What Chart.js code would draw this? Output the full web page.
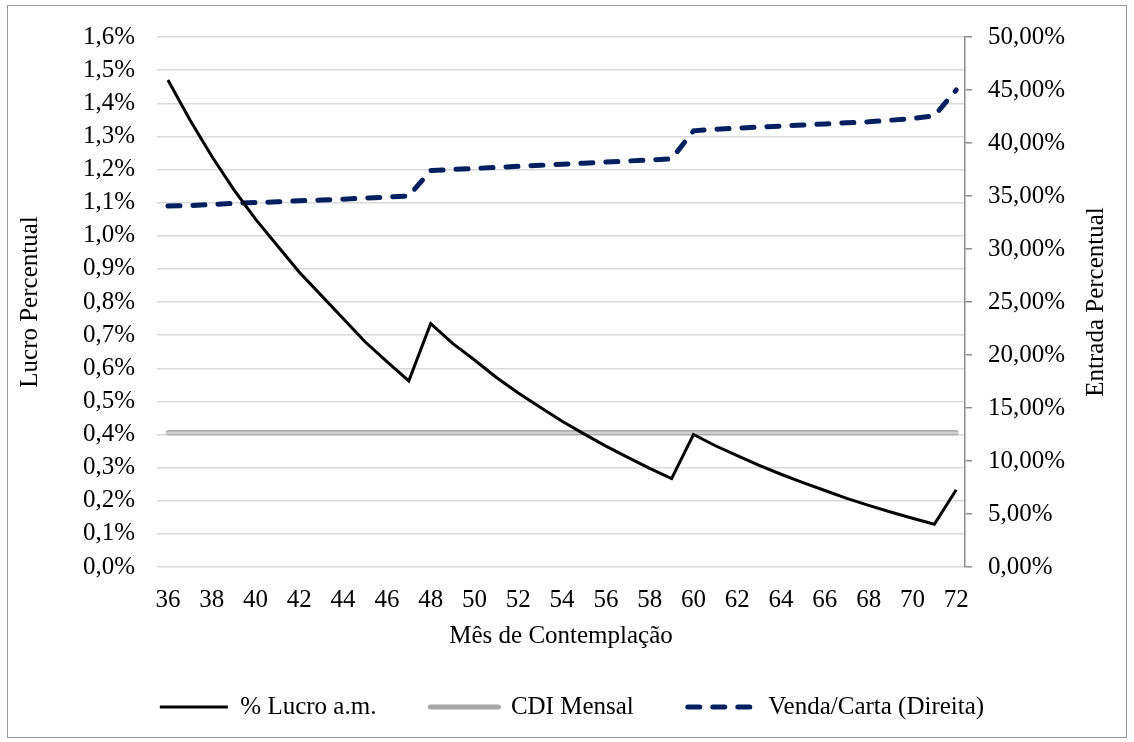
<!DOCTYPE html>
<html>
<head>
<meta charset="utf-8">
<script src="https://cdn.jsdelivr.net/npm/chart.js@4.4.1/dist/chart.umd.min.js"></script>
<style>
    body { margin: 0; background: #fff; }
    #wrap { position: relative; width: 1134px; height: 742px; }
    #moldura { position: absolute; left: 7px; top: 5px; width: 1118px; height: 731px; border: 1px solid #999; pointer-events: none; }
</style>
</head>
<body>
<div id="wrap">
    <canvas id="grafico"></canvas>
    <div id="moldura"></div>
</div>
<script>
// dados
const meses = [36, 37, 38, 39, 40, 41, 42, 43, 44, 45, 46, 47, 48, 49, 50, 51, 52, 53, 54,
    55, 56, 57, 58, 59, 60, 61, 62, 63, 64, 65, 66, 67, 68, 69, 70, 71, 72];
const lucroMensal = [1.47, 1.35, 1.24, 1.14, 1.05, 0.97, 0.89, 0.82, 0.75, 0.68, 0.62, 0.562,
    0.735, 0.675, 0.625, 0.572, 0.525, 0.482, 0.44, 0.402, 0.365, 0.331, 0.298, 0.267,
    0.40, 0.366, 0.336, 0.307, 0.28, 0.255, 0.231, 0.207, 0.186, 0.166, 0.147, 0.129, 0.233];
const cdiMensal = 0.405;
const vendaCarta = [34.05, 34.1, 34.2, 34.3, 34.38, 34.45, 34.55, 34.62, 34.7, 34.8, 34.9, 35.0,
    37.4, 37.5, 37.6, 37.7, 37.8, 37.9, 38.0, 38.1, 38.2, 38.3, 38.4, 38.5,
    41.15, 41.3, 41.4, 41.5, 41.6, 41.7, 41.8, 41.9, 42.0, 42.15, 42.3, 42.56, 45.0];
const ticksMeses = [36, 38, 40, 42, 44, 46, 48, 50, 52, 54, 56, 58, 60, 62, 64, 66, 68, 70, 72];

const fonte = "'Liberation Serif', 'Times New Roman', serif";
const tamFonte = 25;
const ctx = document.getElementById("grafico").getContext("2d");

// titulo do eixo direito, lido de baixo para cima como no original
const tituloDireito = {
    id: "tituloDireito",
    afterDraw: (chart) => {
        const area = chart.chartArea;
        const c = chart.ctx;
        c.save();
        c.translate(1096, (area.top + area.bottom) / 2);
        c.rotate(-Math.PI / 2);
        c.font = tamFonte + "px " + fonte;
        c.fillStyle = "#000";
        c.textAlign = "center";
        c.textBaseline = "middle";
        c.fillText("Entrada Percentual", 0, 0);
        c.restore();
    },
};

// linha do CDI com borda escura e miolo claro (efeito "dupla")
const corCdi = (context) => {
    const chart = context.chart;
    if (!chart.chartArea || !chart.scales.y) return "#a6a6a6";
    const y = chart.scales.y.getPixelForValue(cdiMensal);
    const grad = chart.ctx.createLinearGradient(0, y - 2.5, 0, y + 2.5);
    grad.addColorStop(0, "#8a8a8a");
    grad.addColorStop(0.35, "#cfcfcf");
    grad.addColorStop(0.65, "#cfcfcf");
    grad.addColorStop(1, "#8a8a8a");
    return grad;
};

// legenda com o tracejado de cada serie
const gerarLegenda = (chart) => {
    const itens = Chart.defaults.plugins.legend.labels.generateLabels(chart);
    itens.forEach((item, i) => {
        const ds = chart.data.datasets[i];
        item.lineDash = ds.borderDash || [];
        item.lineWidth = ds.borderWidth;
        item.lineCap = ds.borderCapStyle || "butt";
        item.strokeStyle = typeof ds.borderColor === "string" ? ds.borderColor : "#a6a6a6";
    });
    return itens;
};

new Chart(ctx, {
    type: "line",
    data: {
        labels: meses,
        datasets: [
            {
                label: "% Lucro a.m.",
                data: lucroMensal,
                borderColor: "#000",
                backgroundColor: "#000",
                borderWidth: 3,
                pointRadius: 0,
                tension: 0,
                yAxisID: "y",
            },
            {
                label: "CDI Mensal",
                data: [{ x: 36, y: cdiMensal }, { x: 72, y: cdiMensal }],
                borderColor: corCdi,
                backgroundColor: "#a6a6a6",
                borderWidth: 5,
                pointRadius: 0,
                borderCapStyle: "round",
                yAxisID: "y",
            },
            {
                label: "Venda/Carta (Direita)",
                data: vendaCarta,
                borderColor: "#002060",
                backgroundColor: "#002060",
                borderWidth: 5,
                borderDash: [12, 13],
                borderCapStyle: "round",
                pointRadius: 0,
                tension: 0,
                yAxisID: "y1",
            },
        ],
    },
    plugins: [tituloDireito],
    options: {
        responsive: true,
        maintainAspectRatio: false,
        animation: false,
        layout: { padding: { left: 20, right: 10, top: 34, bottom: 12.5 } },
        plugins: {
            tooltip: { enabled: false },
            legend: {
                position: "bottom",
                labels: {
                    usePointStyle: true,
                    pointStyle: "line",
                    pointStyleWidth: 68,
                    padding: 54,
                    color: "#000",
                    font: { family: fonte, size: tamFonte },
                    generateLabels: gerarLegenda,
                },
            },
        },
        scales: {
            x: {
                type: "linear",
                min: 35.5,
                max: 72.4,
                afterBuildTicks: (scale) => {
                    scale.ticks = ticksMeses.map((v) => ({ value: v }));
                },
                afterFit: (scale) => {
                    scale.height = 73.5;
                },
                grid: { display: false, drawTicks: false },
                border: { display: false },
                ticks: {
                    color: "#000",
                    padding: 18,
                    maxRotation: 0,
                    autoSkip: false,
                    font: { family: fonte, size: tamFonte },
                    callback: (v) => v,
                },
                title: {
                    display: true,
                    text: "Mês de Contemplação",
                    color: "#000",
                    font: { family: fonte, size: tamFonte },
                    padding: { top: 0, bottom: -10.5 },
                },
            },
            y: {
                position: "left",
                min: 0,
                max: 1.6,
                afterFit: (scale) => {
                    scale.width = 137;
                },
                grid: { color: "#d9d9d9", lineWidth: 1.5, drawTicks: false },
                border: { display: false },
                ticks: {
                    stepSize: 0.1,
                    color: "#000",
                    padding: 22,
                    font: { family: fonte, size: tamFonte },
                    callback: (v) => v.toFixed(1).replace(".", ",") + "%",
                },
                title: {
                    display: true,
                    text: "Lucro Percentual",
                    color: "#000",
                    font: { family: fonte, size: tamFonte },
                    padding: { top: -5, bottom: 0 },
                },
            },
            y1: {
                position: "right",
                min: 0,
                max: 50,
                afterFit: (scale) => {
                    scale.width = 159;
                },
                grid: { drawOnChartArea: false, drawTicks: true, tickLength: 7, color: "#8c8c8c", lineWidth: 1.5 },
                border: { display: true, color: "#8c8c8c", width: 1.5 },
                ticks: {
                    stepSize: 5,
                    color: "#000",
                    padding: 16,
                    font: { family: fonte, size: tamFonte },
                    callback: (v) => v.toFixed(2).replace(".", ",") + "%",
                },
            },
        },
    },
});
</script>
</body>
</html>
